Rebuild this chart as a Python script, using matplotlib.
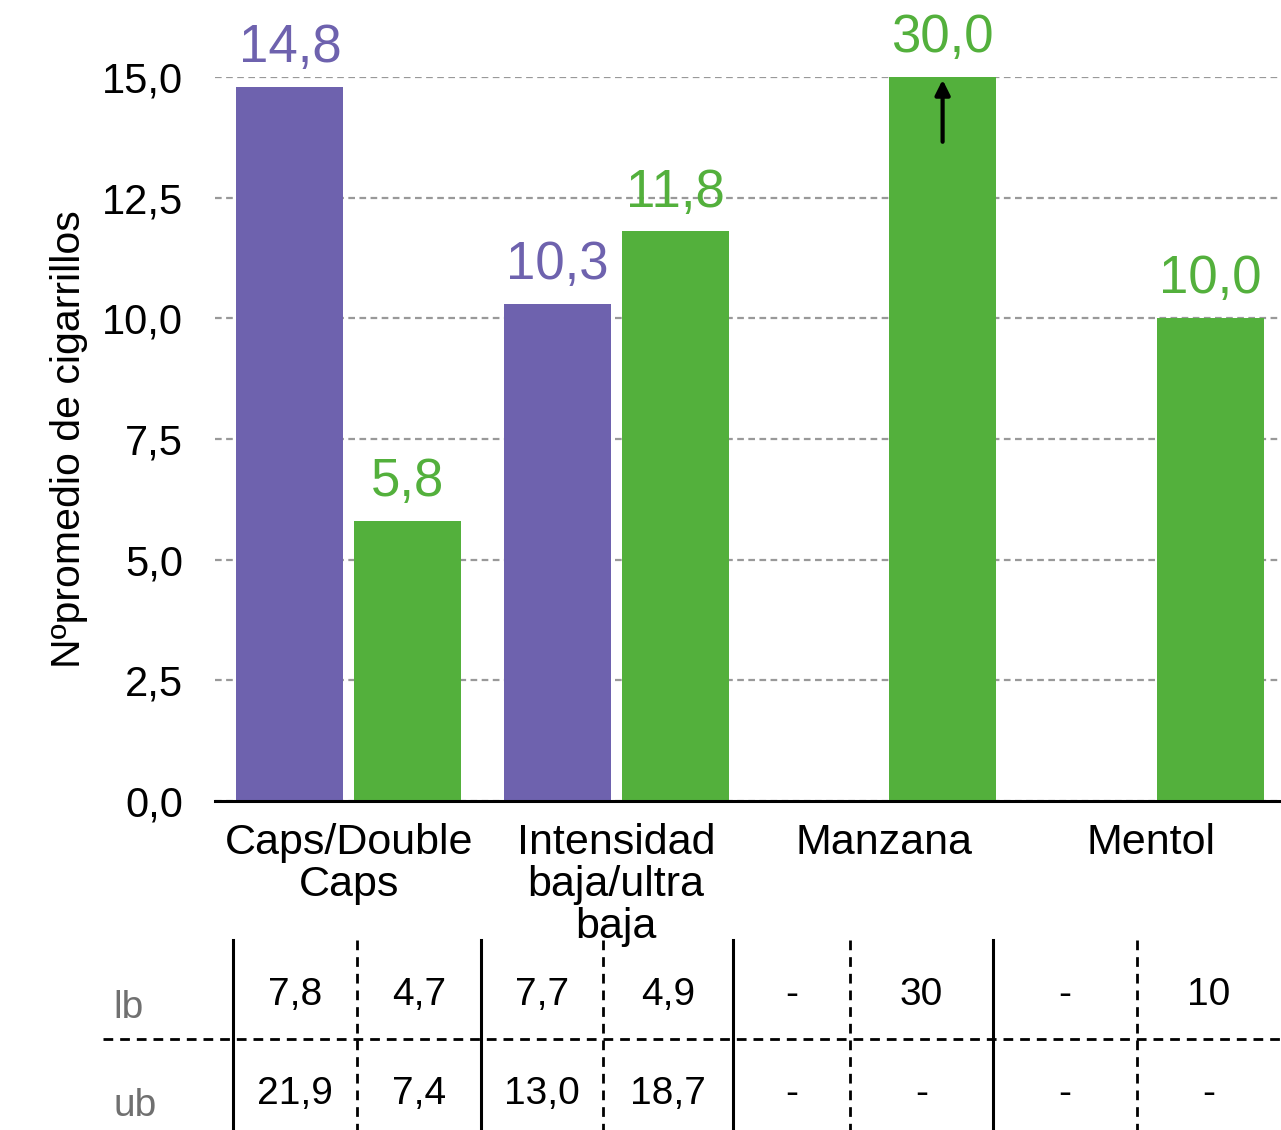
import matplotlib
matplotlib.use("Agg")
import matplotlib.pyplot as plt
from matplotlib.lines import Line2D

# data
categories = ["Caps/Double\nCaps", "Intensidad\nbaja/ultra\nbaja", "Manzana", "Mentol"]
purple_vals = [14.8, 10.3, None, None]
green_vals = [5.8, 11.8, 30.0, 10.0]
yticks = [0.0, 2.5, 5.0, 7.5, 10.0, 12.5, 15.0]
lb_vals = ["7,8", "4,7", "7,7", "4,9", "-", "30", "-", "10"]
ub_vals = ["21,9", "7,4", "13,0", "18,7", "-", "-", "-", "-"]

PURPLE = "#6E62AE"
GREEN = "#53B03C"
FONT = ["Liberation Sans", "DejaVu Sans"]

plt.rcParams["font.family"] = FONT

W, H = 1281, 1130
fig = plt.figure(figsize=(W / 100, H / 100), dpi=100)
ax = fig.add_axes([215 / W, 329 / H, (1285 - 215) / W, (1053 - 329) / H])

def fmt(v):
    return f"{v:.1f}".replace(".", ",")

off = 0.22
bw = 0.4
for i, (p, g) in enumerate(zip(purple_vals, green_vals)):
    if p is not None:
        ax.bar(i - off, p, width=bw, color=PURPLE, zorder=3)
        ax.annotate(fmt(p), (i - off, min(p, 15)), xytext=(0, 10), textcoords="offset points",
                    ha="center", va="bottom", color=PURPLE, fontsize=38,
                    annotation_clip=False)
    if g is not None:
        ax.bar(i + off, g, width=bw, color=GREEN, zorder=3)
        ax.annotate(fmt(g), (i + off, min(g, 15)), xytext=(0, 10), textcoords="offset points",
                    ha="center", va="bottom", color=GREEN, fontsize=38,
                    annotation_clip=False)

# arrow for the bar that goes off the scale
ax.annotate("", xy=(2 + off, 15), xytext=(2 + off, 13.6),
            arrowprops=dict(arrowstyle="-|>", color="black", lw=3, mutation_scale=22),
            annotation_clip=False, zorder=5)

ax.set_xlim(-0.5, 3.5)
ax.set_ylim(0, 15)
ax.set_yticks(yticks)
ax.set_yticklabels([fmt(t) for t in yticks], fontsize=30)
ax.set_xticks(range(len(categories)))
ax.set_xticklabels(categories, fontsize=31, linespacing=1.06, va="top")
ax.tick_params(axis="both", length=0)
ax.tick_params(axis="y", pad=23)
ax.tick_params(axis="x", pad=16)
ax.yaxis.grid(True, color="#999999", linestyle=(0, (3, 2)), linewidth=1.6, zorder=0)
ax.set_axisbelow(True)
for s in ["left", "right", "top"]:
    ax.spines[s].set_visible(False)
ax.spines["bottom"].set_linewidth(2.2)
ax.spines["bottom"].set_zorder(4)
ax.set_ylabel("N\u00bapromedio de cigarrillos", fontsize=29.5, labelpad=10)

# table beneath the chart, in pixel coordinates
tab = fig.add_axes([0, 0, 1, 1], facecolor="none")
tab.set_xlim(0, W)
tab.set_ylim(H, 0)
tab.axis("off")
edges = [233, 357, 481, 603, 733, 850, 993, 1137, 1281]
tab.add_line(Line2D([103, W], [1039, 1039], color="black", lw=2, linestyle=(0, (3.5, 2.5))))
for j, x in enumerate(edges[:-1]):
    if j % 2 == 0:
        tab.add_line(Line2D([x, x], [940, H], color="black", lw=2.2))
    else:
        tab.add_line(Line2D([x, x], [940, H], color="black", lw=2, linestyle=(0, (3.5, 2.5))))
for j in range(len(lb_vals)):
    cx = (edges[j] + edges[j + 1]) / 2
    tab.text(cx, 995, lb_vals[j], ha="center", va="center", fontsize=28)
    tab.text(cx, 1094, ub_vals[j], ha="center", va="center", fontsize=28)
tab.text(113, 1008, "lb", ha="left", va="center", fontsize=28, color="#707070")
tab.text(113, 1106, "ub", ha="left", va="center", fontsize=28, color="#707070")

fig.savefig("out.png", dpi=100)
